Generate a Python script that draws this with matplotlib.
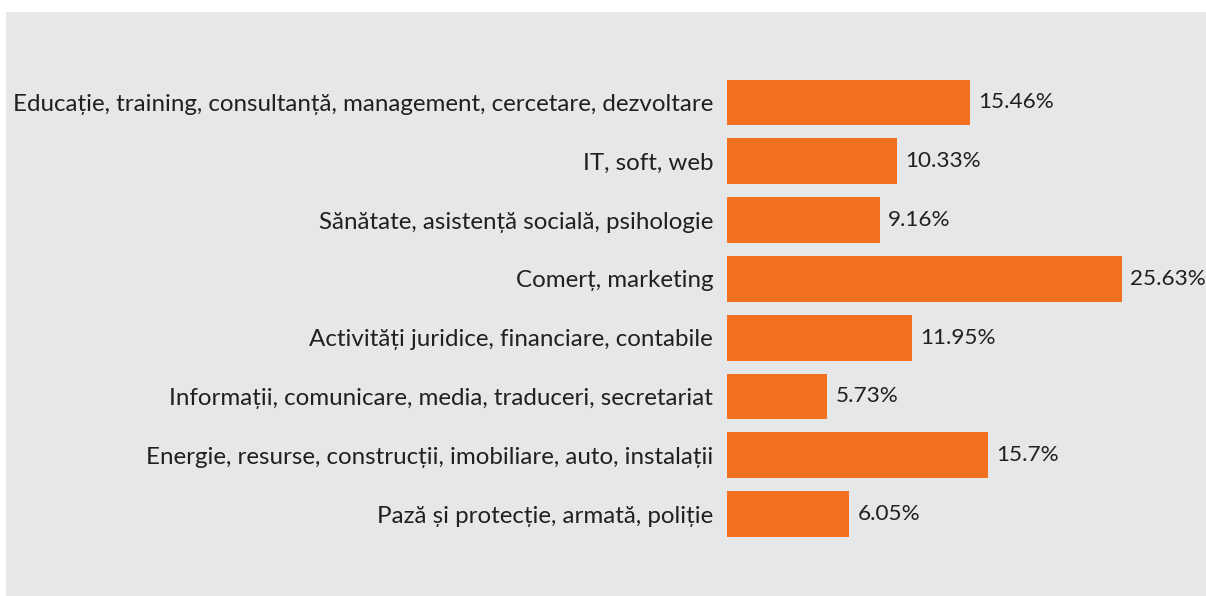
import matplotlib
matplotlib.use("Agg")
import matplotlib.pyplot as plt
from matplotlib.patches import Rectangle

categories = [
    "Educație, training, consultanță, management, cercetare, dezvoltare",
    "IT, soft, web",
    "Sănătate, asistență socială, psihologie",
    "Comerț, marketing",
    "Activități juridice, financiare, contabile",
    "Informații, comunicare, media, traduceri, secretariat",
    "Energie, resurse, construcții, imobiliare, auto, instalații",
    "Pază și protecție, armată, poliție",
]
# printed values
value_labels = ["15.46%", "10.33%", "9.16%", "25.63%", "11.95%", "5.73%", "15.7%", "6.05%"]
# bar lengths as drawn in the picture (same % scale)
bar_lengths = [15.77, 11.03, 9.93, 25.63, 12.0, 6.49, 16.94, 7.92]

plt.rcParams['font.family'] = ['Lato', 'DejaVu Sans']

W, H = 1206, 596
fig = plt.figure(figsize=(W / 100, H / 100), dpi=100)
fig.patch.set_facecolor("white")

bg = "#e6e7e8"
fig.patches.append(Rectangle((6 / W, 0), 1 - 6 / W, 1 - 12 / H,
                             transform=fig.transFigure, facecolor=bg,
                             edgecolor="none", zorder=-10))

x0 = 727
pxper = 15.41
top = 73.1
bot = 543.4
ax = fig.add_axes([x0 / W, 1 - bot / H, (W - x0) / W, (bot - top) / H])
ax.set_zorder(5)
ax.set_facecolor("none")
ax.set_xlim(0, (W - x0) / pxper)
ax.set_ylim(len(bar_lengths) - 0.5, -0.5)

ypos = list(range(len(bar_lengths)))
ax.barh(ypos, bar_lengths, height=0.78, color="#f37021", zorder=2)

for y, v, lab in zip(ypos, bar_lengths, value_labels):
    ax.annotate(lab, xy=(v, y), xytext=(6, 0), textcoords="offset points",
                va="center", ha="left", fontsize=16.2, color="#231f20",
                annotation_clip=False)

ax.set_yticks(ypos)
ax.set_yticklabels(categories, fontsize=17.4, color="#231f20")
ax.tick_params(axis="y", length=0, pad=10)
ax.set_xticks([])
for s in ax.spines.values():
    s.set_visible(False)

fig.savefig("out.png", dpi=100, facecolor="white")
